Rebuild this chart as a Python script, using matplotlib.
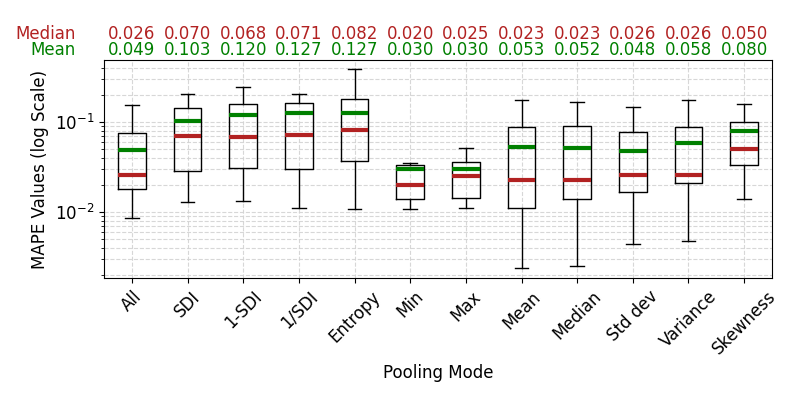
import numpy as np
import matplotlib
matplotlib.use("Agg")
import matplotlib.pyplot as plt

# pooling modes and box statistics
modes = ["All", "SDI", "1-SDI", "1/SDI", "Entropy", "Min", "Max",
         "Mean", "Median", "Std dev", "Variance", "Skewness"]
medians = [0.026, 0.070, 0.068, 0.071, 0.082, 0.020, 0.025, 0.023, 0.023, 0.026, 0.026, 0.050]
means = [0.049, 0.103, 0.120, 0.127, 0.127, 0.030, 0.030, 0.053, 0.052, 0.048, 0.058, 0.080]
q1 = [0.0179, 0.0283, 0.0306, 0.0298, 0.0366, 0.0138, 0.0142, 0.0110, 0.0138, 0.0166, 0.0208, 0.0330]
q3 = [0.0749, 0.142, 0.157, 0.161, 0.179, 0.0330, 0.0356, 0.0873, 0.0896, 0.0768, 0.0873, 0.0990]
whis_lo = [0.0087, 0.0129, 0.0132, 0.0110, 0.0107, 0.0107, 0.0110, 0.0024, 0.0025, 0.0044, 0.0048, 0.0138]
whis_hi = [0.153, 0.203, 0.243, 0.203, 0.386, 0.0348, 0.0509, 0.174, 0.166, 0.149, 0.174, 0.157]

stats = []
for i in range(len(modes)):
    stats.append(dict(label=modes[i], med=medians[i], mean=means[i], q1=q1[i], q3=q3[i],
                      whislo=whis_lo[i], whishi=whis_hi[i], fliers=[]))

fig = plt.figure(figsize=(8, 4), dpi=100)
ax = fig.add_axes([0.13, 0.305, 0.835, 0.545])

ax.bxp(stats, showmeans=True, meanline=True, showfliers=False,
       medianprops=dict(color="firebrick", linewidth=3, linestyle="-"),
       meanprops=dict(color="green", linewidth=3, linestyle="-"))

ax.set_yscale("log")
ax.set_ylim(0.00185, 0.49)
ax.set_xlim(0.5, len(modes) + 0.5)
ax.grid(True, which="both", linestyle="--", color="lightgray", alpha=0.9)
ax.set_axisbelow(True)

ax.set_xticklabels(modes, rotation=45, fontsize=12)
ax.tick_params(axis="y", labelsize=12)
ax.set_xlabel("Pooling Mode", fontsize=12)
ax.set_ylabel("MAPE Values (log Scale)", fontsize=12)

# median / mean values above each box
trans = ax.get_xaxis_transform()
for i in range(len(modes)):
    ax.text(i + 1, 1.12, "%.3f" % medians[i], color="firebrick", fontsize=12,
            ha="center", va="center", transform=trans)
    ax.text(i + 1, 1.045, "%.3f" % means[i], color="green", fontsize=12,
            ha="center", va="center", transform=trans)
ax.text(-0.042, 1.12, "Median", color="firebrick", fontsize=12, ha="right", va="center",
        transform=ax.transAxes)
ax.text(-0.042, 1.045, "Mean", color="green", fontsize=12, ha="right", va="center",
        transform=ax.transAxes)

plt.savefig("out.png")
